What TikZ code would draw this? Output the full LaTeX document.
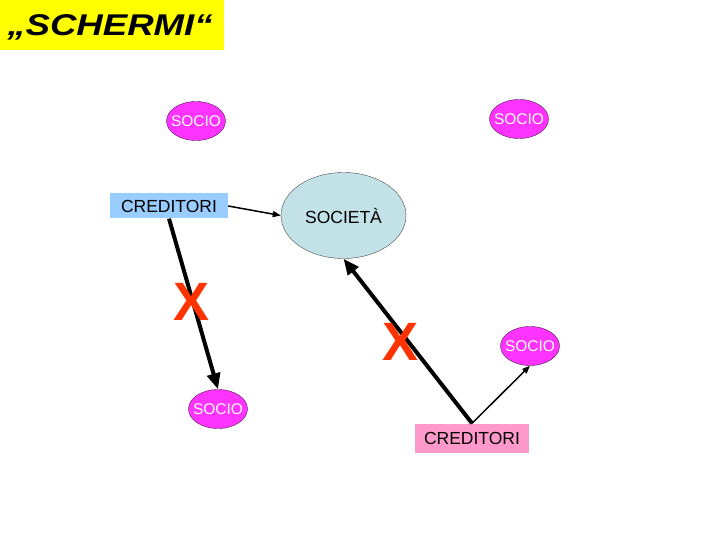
\documentclass[tikz,border=0pt]{standalone}
\usepackage{fontspec}
\setmainfont{Liberation Sans}
\usetikzlibrary{arrows.meta,shapes.geometric}

\begin{document}
\begin{tikzpicture}[x=1pt,y=-1pt,
  socionode/.style={ellipse,draw=socioline,fill=sociofill,minimum width=59,minimum height=39,inner xsep=-6pt,inner ysep=0pt,text=white,font=\fontsize{15.5}{18}\selectfont},
  credbox/.style={rectangle,inner sep=0pt,minimum height=25,font=\fontsize{17.5}{20}\selectfont},
  cross/.style={text=crossred,font=\fontsize{54}{60}\selectfont\bfseries,inner sep=0pt},
  heavyarrow/.style={line width=4pt,-{Triangle[length=16pt,width=13pt]}},
  lightarrow/.style={line width=1.5pt,-{Triangle[length=8pt,width=6pt]}}]
\definecolor{titleyellow}{HTML}{FFFF00}
\definecolor{sociofill}{HTML}{FF33FF}
\definecolor{socioline}{HTML}{4D1A4D}
\definecolor{societafill}{HTML}{C2E2E8}
\definecolor{credblue}{HTML}{99CCFF}
\definecolor{credpink}{HTML}{FF99CC}
\definecolor{crossred}{HTML}{FF3300}
\useasboundingbox[fill=white] (0,0) rectangle (720,540);
\node[fill=titleyellow,minimum width=224,minimum height=50,inner sep=0pt] (title) at (112,25) {};
\node[font=\fontsize{30}{34}\selectfont,inner sep=0pt] (titletext) at (110,27) {\scalebox{1.22}[1]{\textbf{\textit{„SCHERMI“}}}};
  \foreach \nm/\px/\py in {socio1/196/121,socio2/519/119,socio3/218/409,socio4/530/346}
  {  \node [socionode] (\nm) at (\px,\py) {SOCIO};}
\node[ellipse,draw=gray!60!black,fill=societafill,minimum width=125,minimum height=86,inner sep=0pt,font=\fontsize{17.5}{20}\selectfont] (societa) at (343.5,215.5) {SOCIETÀ};
\node[credbox,fill=credblue,minimum width=118] (cred1) at (169,206) {CREDITORI};
\node[credbox,fill=credpink,minimum width=114,minimum height=29] (cred2) at (472,438) {CREDITORI};
\draw[lightarrow] (cred1.east) -- (societa.west);
\draw[heavyarrow] (cred1.south) -- (socio3.north);
\draw[heavyarrow] (cred2.north) -- (societa.south);
\draw[lightarrow] (cred2.north) -- (socio4.south);
\node[cross] (x1) at (192,302) {X};
\node[cross] (x2) at (401,342) {X};
\end{tikzpicture}
\end{document}
